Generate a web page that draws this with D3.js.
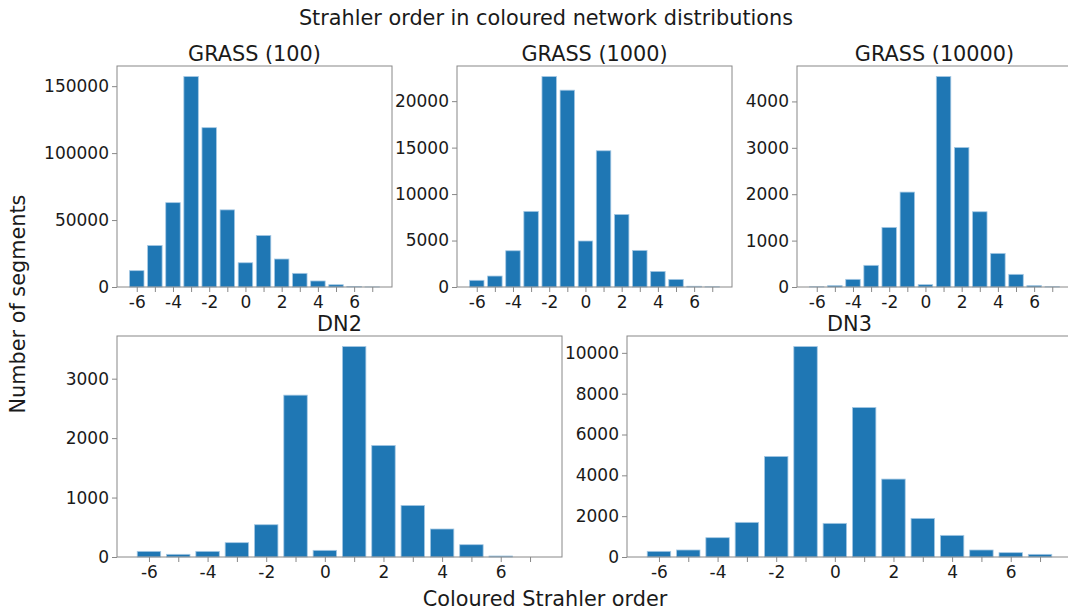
<!DOCTYPE html>
<html>
<head>
<meta charset="utf-8">
<script src="https://cdn.jsdelivr.net/npm/d3@7"></script>
<style>
  body { margin: 0; background: #fff; }
  svg { display: block; font-family: "DejaVu Sans", sans-serif; }
</style>
</head>
<body>
<svg id="chart" width="1068" height="611"></svg>
<script>
// Coloured Strahler order, -6 .. 7
const orders = [-6, -5, -4, -3, -2, -1, 0, 1, 2, 3, 4, 5, 6, 7];
const xTickLabels = [-6, -4, -2, 0, 2, 4, 6];

// segment counts per order
const grass100 = [12200, 31000, 63000, 157200, 119000, 57600, 18100, 38500, 20900, 10200, 4500, 1700, 300, 50];
const grass1000 = [720, 1180, 3900, 8140, 22650, 21180, 4950, 14660, 7810, 3940, 1680, 820, 80, 20];
const grass10000 = [5, 30, 165, 467, 1285, 2046, 50, 4537, 3008, 1622, 725, 273, 30, 5];
const dn2 = [95, 45, 95, 241, 543, 2723, 112, 3541, 1877, 868, 471, 207, 17, 0];
const dn3 = [277, 343, 946, 1697, 4927, 10310, 1648, 7325, 3817, 1892, 1060, 343, 212, 130];

const yTicks100 = [0, 50000, 100000, 150000];
const yTicks1000 = [0, 5000, 10000, 15000, 20000];
const yTicks10000 = [0, 1000, 2000, 3000, 4000];
const yTicksDn2 = [0, 1000, 2000, 3000];
const yTicksDn3 = [0, 2000, 4000, 6000, 8000, 10000];

const titles = ['GRASS (100)', 'GRASS (1000)', 'GRASS (10000)', 'DN2', 'DN3'];

const panels = [
  { title: titles[0], values: grass100, ticks: yTicks100, x: 117, y: 66, w: 275, h: 221 },
  { title: titles[1], values: grass1000, ticks: yTicks1000, x: 457, y: 66, w: 275, h: 221 },
  { title: titles[2], values: grass10000, ticks: yTicks10000, x: 797, y: 66, w: 275, h: 221 },
  { title: titles[3], values: dn2, ticks: yTicksDn2, x: 117, y: 336, w: 445, h: 221 },
  { title: titles[4], values: dn3, ticks: yTicksDn3, x: 627, y: 336, w: 445, h: 221 }
];

const barColor = '#1f77b4';
const spineColor = '#888';
const textColor = '#1a1a1a';
const tickFont = '17px';
const labelFont = '20.8px';

const svg = d3.select('#chart');

panels.forEach(p => {
  const g = svg.append('g').attr('transform', `translate(${p.x},${p.y})`);

  // matplotlib-like margins: bars span -6.4..7.4, 5% padding
  const x = d3.scaleLinear().domain([-7.09, 8.09]).range([0, p.w]);
  const y = d3.scaleLinear().domain([0, d3.max(p.values) * 1.05]).range([p.h, 0]);

  g.selectAll('rect.bar')
    .data(orders)
    .enter()
    .append('rect')
    .attr('class', 'bar')
    .attr('x', (d) => x(d - 0.4))
    .attr('width', x(0.4) - x(-0.4))
    .attr('y', (d, i) => y(p.values[i]))
    .attr('height', (d, i) => p.h - y(p.values[i]))
    .attr('fill', barColor)
    .attr('stroke', '#a6c9e4')
    .attr('stroke-width', 0.8);

  const yAxis = g.append('g')
    .call(d3.axisLeft(y).tickValues(p.ticks).tickSize(5).tickPadding(3).tickFormat(d3.format('d')));
  yAxis.select('.domain').remove();
  yAxis.selectAll('line').attr('stroke', spineColor);
  yAxis.selectAll('text')
    .attr('fill', textColor)
    .style('font-size', tickFont)
    .style('font-family', '"DejaVu Sans", sans-serif');

  const xAxis = g.append('g')
    .attr('transform', `translate(0,${p.h})`)
    .call(d3.axisBottom(x).tickValues(orders).tickSize(5).tickPadding(4)
      .tickFormat(d => xTickLabels.includes(d) ? String(d) : ''));
  xAxis.select('.domain').remove();
  xAxis.selectAll('line').attr('stroke', spineColor);
  xAxis.selectAll('text')
    .attr('fill', textColor)
    .style('font-size', tickFont)
    .style('font-family', '"DejaVu Sans", sans-serif');

  g.append('rect')
    .attr('width', p.w)
    .attr('height', p.h)
    .attr('fill', 'none')
    .attr('stroke', spineColor)
    .attr('stroke-width', 1);

  g.append('text')
    .attr('x', p.w / 2)
    .attr('y', -5.5)
    .attr('text-anchor', 'middle')
    .attr('fill', textColor)
    .style('font-size', labelFont)
    .text(p.title);
});

svg.append('text')
  .attr('x', 546)
  .attr('y', 25)
  .attr('text-anchor', 'middle')
  .attr('fill', textColor)
  .style('font-size', labelFont)
  .text('Strahler order in coloured network distributions');

svg.append('text')
  .attr('transform', 'translate(25,304) rotate(-90)')
  .attr('text-anchor', 'middle')
  .attr('fill', textColor)
  .style('font-size', labelFont)
  .text('Number of segments');

svg.append('text')
  .attr('x', 545)
  .attr('y', 606)
  .attr('text-anchor', 'middle')
  .attr('fill', textColor)
  .style('font-size', labelFont)
  .text('Coloured Strahler order');
</script>
</body>
</html>
